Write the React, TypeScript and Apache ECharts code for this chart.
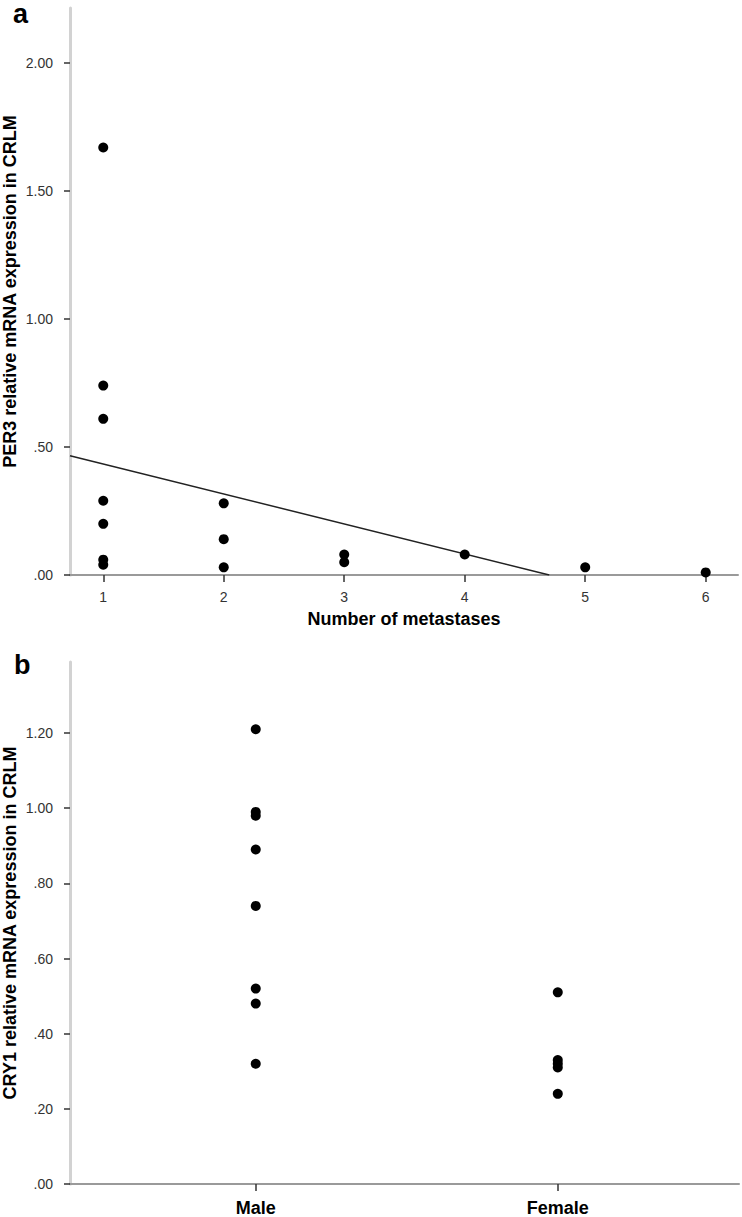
import React, { useEffect, useRef } from "react";
import * as echarts from "echarts";

// Panel a: PER3 vs number of metastases
const metastasesX: number[] = [1, 1, 1, 1, 1, 1, 1, 2, 2, 2, 3, 3, 4, 5, 6];
const per3Values: number[] = [1.67, 0.74, 0.61, 0.29, 0.2, 0.06, 0.04, 0.28, 0.14, 0.03, 0.08, 0.05, 0.08, 0.03, 0.01];
const xTicksA: number[] = [1, 2, 3, 4, 5, 6];
const yTicksA: number[] = [0, 0.5, 1.0, 1.5, 2.0];
// fit line: y = intercept + slope * x
const fitIntercept = 0.551;
const fitSlope = -0.1172;

// Panel b: CRY1 by sex
const sexCategories: string[] = ["Male", "Female"];
const maleValues: number[] = [1.21, 0.99, 0.98, 0.89, 0.74, 0.52, 0.48, 0.32];
const femaleValues: number[] = [0.51, 0.33, 0.32, 0.31, 0.24];
const yTicksB: number[] = [0, 0.2, 0.4, 0.6, 0.8, 1.0, 1.2];

const FONT = "'Liberation Sans', Arial, sans-serif";

const fmt = (v: number) => {
  const s = v.toFixed(2);
  return s.startsWith("0.") ? s.slice(1) : s;
};

export default function App() {
  const ref = useRef<HTMLDivElement>(null);
  useEffect(() => {
    if (!ref.current) return;
    const chart = echarts.init(ref.current, null, { renderer: "svg" });

    const xMinA = 0.724;
    const xMaxA = 6.268;
    const fitRoot = -fitIntercept / fitSlope;
    const fitLine = [
      [xMinA, fitIntercept + fitSlope * xMinA],
      [fitRoot, 0],
    ];

    const scatterA = metastasesX.map((x, i) => [x, per3Values[i]]);
    const scatterB = [
      ...maleValues.map((v) => [1, v]),
      ...femaleValues.map((v) => [2, v]),
    ];

    const yAxisCommon = {
      type: "value" as const,
      min: 0,
      nameLocation: "middle" as const,
      nameRotate: 90,
      nameMoveOverlap: false,
      nameTextStyle: { fontFamily: FONT, fontSize: 18, lineHeight: 18, fontWeight: "bold", color: "#000" },
      axisLine: { show: true, lineStyle: { color: "#d2d2d2", width: 3 } },
      axisTick: { show: true, length: 6, lineStyle: { color: "#333", width: 1.5 } },
      axisLabel: {
        fontFamily: FONT,
        fontSize: 14,
        color: "#333",
        margin: 17,
        formatter: (v: number) => fmt(v),
      },
      splitLine: { show: false },
    };

    const option: any = {
      animation: false,
      backgroundColor: "#fff",
      grid: [
        { left: 70, top: 8, width: 668, height: 567, containLabel: false, outerBoundsMode: "none" },
        { left: 70, top: 662, width: 669, height: 522, containLabel: false, outerBoundsMode: "none" },
      ],
      xAxis: [
        {
          gridIndex: 0,
          type: "value",
          min: xMinA,
          max: xMaxA,
          name: "Number of metastases",
          nameLocation: "middle",
          nameGap: 35,
          nameTextStyle: { fontFamily: FONT, fontSize: 18, fontWeight: "bold", color: "#000" },
          axisLine: { show: true, onZero: false, lineStyle: { color: "#9a9a9a", width: 2 } },
          axisTick: { show: true, length: 7, customValues: xTicksA, lineStyle: { color: "#333", width: 1.5 } },
          axisLabel: {
            fontFamily: FONT,
            fontSize: 14,
            color: "#333",
            margin: 15,
            customValues: xTicksA,
            formatter: (v: number) => String(v),
          },
          splitLine: { show: false },
        },
        {
          gridIndex: 1,
          type: "value",
          min: 0.385,
          max: 2.6,
          axisLine: { show: true, onZero: false, lineStyle: { color: "#9a9a9a", width: 2 } },
          axisTick: { show: true, length: 7, customValues: [1, 2], lineStyle: { color: "#333", width: 1.5 } },
          axisLabel: {
            fontFamily: FONT,
            fontSize: 18,
            lineHeight: 18,
            fontWeight: "bold",
            color: "#000",
            margin: 15,
            customValues: [1, 2],
            formatter: (v: number) => sexCategories[Math.round(v) - 1] ?? "",
          },
          splitLine: { show: false },
        },
      ],
      yAxis: [
        {
          ...yAxisCommon,
          gridIndex: 0,
          max: 2.215,
          name: "PER3 relative mRNA expression in CRLM",
          nameGap: 51,
          axisTick: { ...yAxisCommon.axisTick, customValues: yTicksA },
          axisLabel: { ...yAxisCommon.axisLabel, customValues: yTicksA },
        },
        {
          ...yAxisCommon,
          gridIndex: 1,
          max: 1.389,
          name: "CRY1 relative mRNA expression in CRLM",
          nameGap: 51,
          axisTick: { ...yAxisCommon.axisTick, customValues: yTicksB },
          axisLabel: { ...yAxisCommon.axisLabel, customValues: yTicksB },
        },
      ],
      series: [
        {
          type: "line",
          xAxisIndex: 0,
          yAxisIndex: 0,
          data: fitLine,
          symbol: "none",
          lineStyle: { color: "#222", width: 1.5 },
          z: 3,
        },
        {
          type: "scatter",
          xAxisIndex: 0,
          yAxisIndex: 0,
          data: scatterA,
          symbolSize: 10,
          itemStyle: { color: "#000", opacity: 1 },
          z: 4,
        },
        {
          type: "scatter",
          xAxisIndex: 1,
          yAxisIndex: 1,
          data: scatterB,
          symbolSize: 10,
          itemStyle: { color: "#000", opacity: 1 },
          z: 4,
        },
      ],
      graphic: [
        {
          type: "text",
          left: 13,
          top: 0,
          style: { text: "a", fontFamily: FONT, fontSize: 27, fontWeight: "bold", fill: "#000" },
        },
        {
          type: "text",
          left: 14,
          top: 651,
          style: { text: "b", fontFamily: FONT, fontSize: 27, fontWeight: "bold", fill: "#000" },
        },
      ],
    };

    chart.setOption(option);
    return () => chart.dispose();
  }, []);

  return (
    <div
      ref={ref}
      style={{ position: "absolute", left: 0, top: 0, width: 742, height: 1217, background: "#fff" }}
    />
  );
}
